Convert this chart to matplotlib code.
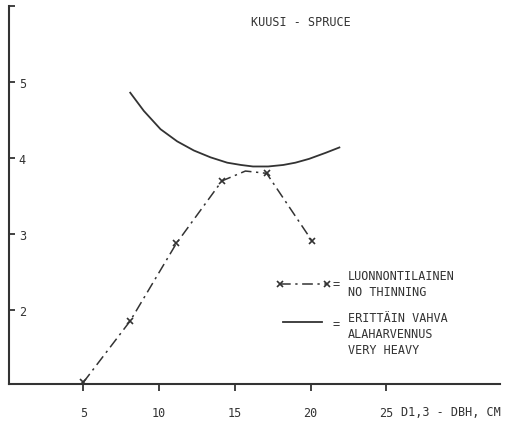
import matplotlib.pyplot as plt
from matplotlib.lines import Line2D

# luonnontilainen / no thinning (x = measured points, extra point only shapes the top)
no_thin_x = [5.0, 8.1, 11.15, 14.15, 15.7, 17.1, 20.1]
no_thin_y = [1.05, 1.86, 2.88, 3.70, 3.83, 3.80, 2.91]
no_thin_marked = [0, 1, 2, 3, 5, 6]

# erittäin vahva alaharvennus / very heavy
heavy_x = [8.1, 9.0, 10.1, 11.2, 12.3, 13.4, 14.5, 15.4, 16.2, 17.2, 18.2, 19.0, 19.9, 21.0, 21.9]
heavy_y = [4.86, 4.62, 4.38, 4.22, 4.10, 4.01, 3.94, 3.91, 3.89, 3.89, 3.91, 3.94, 3.99, 4.07, 4.14]

x_ticks = [5, 10, 15, 20, 25]
y_ticks = [2, 3, 4, 5, 6]
y_labels = ["2", "3", "4", "5", ""]

ink = "#333333"
W, H = 517, 427
fam = "DejaVu Sans Mono"
fs = 8.5

fig = plt.figure(figsize=(W / 100, H / 100), dpi=100)
ax = fig.add_axes([9 / W, 1 - 385 / H, 491 / W, 378 / H])

ax.plot(no_thin_x, no_thin_y, color=ink, lw=1.1, linestyle=(0, (7, 3, 1.5, 3)),
        marker="x", markersize=4.5, markeredgewidth=1.2, markevery=no_thin_marked)
ax.plot(heavy_x, heavy_y, color=ink, lw=1.3)

ax.set_xlim(0.1, 32.5)
ax.set_ylim(1.03, 6.0)

for s in ["top", "right"]:
    ax.spines[s].set_visible(False)
for s in ["left", "bottom"]:
    ax.spines[s].set_linewidth(1.5)
    ax.spines[s].set_color(ink)

ax.set_xticks(x_ticks)
ax.set_xticklabels([str(t) for t in x_ticks], family=fam)
ax.set_yticks(y_ticks)
ax.set_yticklabels(y_labels, family=fam)
ax.tick_params(axis="x", direction="out", length=5, width=1.3, color=ink,
               labelsize=fs, labelcolor=ink, pad=11)
ax.tick_params(axis="y", direction="in", length=4, width=1.3, color=ink,
               labelsize=fs, labelcolor=ink, pad=-7)
for lab in ax.get_yticklabels():
    lab.set_horizontalalignment("left")

font = dict(family=fam, size=fs, color=ink)

def px(x, y):
    return x / W, 1 - y / H

# x-axis label next to the "25"
fig.text(*px(401, 413), "D1,3 - DBH, CM", ha="left", va="center", **font)
# title
fig.text(*px(301, 23), "KUUSI - SPRUCE", ha="center", va="center", **font)

# legend drawn by hand
l1 = Line2D([280 / W, 327 / W], [1 - 285 / H, 1 - 285 / H], color=ink, lw=1.1,
            linestyle=(0, (7, 3, 1.5, 3)), marker="x", markersize=4.5,
            markeredgewidth=1.2, transform=fig.transFigure)
l2 = Line2D([283 / W, 322 / W], [1 - 323 / H, 1 - 323 / H], color=ink, lw=1.3,
            transform=fig.transFigure)
fig.add_artist(l1)
fig.add_artist(l2)
fig.text(*px(336, 285), "=", ha="center", va="center", **font)
fig.text(*px(336, 325), "=", ha="center", va="center", **font)
fig.text(*px(348, 285), "LUONNONTILAINEN\nNO THINNING", ha="left", va="center",
         linespacing=1.3, **font)
fig.text(*px(348, 335), "ERITTÄIN VAHVA\nALAHARVENNUS\nVERY HEAVY", ha="left",
         va="center", linespacing=1.3, **font)

fig.savefig("out.png", dpi=100)
